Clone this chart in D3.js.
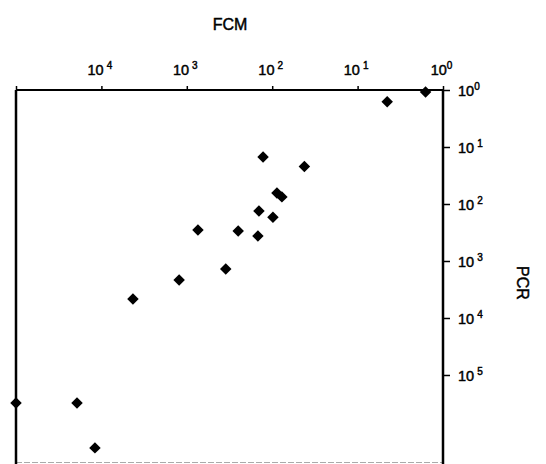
<!DOCTYPE html>
<html>
<head>
<meta charset="utf-8">
<script src="https://cdn.jsdelivr.net/npm/d3@7"></script>
<style>
  body { margin: 0; background: #fff; }
  svg { display: block; font-family: "Liberation Sans", Arial, sans-serif; }
  svg text { stroke: #000; stroke-width: 0.45px; }
</style>
</head>
<body>
<div id="chart"></div>
<script>
const width = 546;
const height = 464;
const margin = ({top: 90, right: 103, bottom: 1, left: 16});

// FCM (x, reversed log) and PCR (y, log) values
const fcm = [1.6, 4.5, 128, 42, 88, 77, 143, 98, 740, 250, 147, 350, 1230, 4270, 100000, 19300, 11900];
const pcr = [1.08, 1.6, 15, 22, 64, 75, 133, 170, 286, 298, 364, 1380, 2150, 4650, 309000, 309000, 1900000];

const xTicks = [100000, 10000, 1000, 100, 10, 1];
const yTicks = [1, 10, 100, 1000, 10000, 100000];

const svg = d3.select("#chart")
    .append("svg")
    .attr("width", width)
    .attr("height", height);

let xScale = d3.scaleLog()
    .domain([100000, 1])
    .range([margin.left, width - margin.right]);

let yScale = d3.scaleLog()
    .domain([1, 3.5e6])
    .range([margin.top, height - margin.bottom]);

const expo = (v) => Math.round(Math.log10(v));

// top axis (FCM)
let xAxis = d3.axisTop(xScale)
    .tickValues(xTicks)
    .tickSize(4)
    .tickSizeOuter(0)
    .tickFormat("");

let gx = svg.append("g")
    .attr("class", "x axis")
    .attr("transform", "translate(0," + margin.top + ")")
    .call(xAxis);

gx.select(".domain").remove();
gx.selectAll(".tick line").attr("stroke", "#000").attr("stroke-width", 1.5);

gx.selectAll(".tick").each(function (d) {
    if (d === 100000) return;
    let t = d3.select(this).append("text")
        .attr("x", -2)
        .attr("y", -15)
        .attr("fill", "#000")
        .attr("font-size", 14.5)
        .attr("text-anchor", "middle");
    t.append("tspan").text("10");
    t.append("tspan")
        .attr("dx", expo(d) === 0 ? 0 : 3)
        .attr("dy", -6)
        .attr("font-size", 10)
        .text(expo(d));
});

// right axis (PCR)
let yAxis = d3.axisRight(yScale)
    .tickValues(yTicks)
    .tickSize(7)
    .tickSizeOuter(0)
    .tickFormat("");

let gy = svg.append("g")
    .attr("class", "y axis")
    .attr("transform", "translate(" + (width - margin.right) + ",0)")
    .call(yAxis);

gy.select(".domain").remove();
gy.selectAll(".tick line").attr("stroke", "#000").attr("stroke-width", 1.5);

gy.selectAll(".tick").each(function (d) {
    let t = d3.select(this).append("text")
        .attr("x", 15)
        .attr("dy", "0.35em")
        .attr("fill", "#000")
        .attr("font-size", 14.5)
        .attr("text-anchor", "start");
    t.append("tspan").text("10");
    t.append("tspan")
        .attr("dx", expo(d) === 0 ? 0 : 3)
        .attr("dy", -6)
        .attr("font-size", 10)
        .text(expo(d));
});

// frame
const x0 = xScale.range()[0], x1 = xScale.range()[1];
const y0 = yScale.range()[0], y1 = yScale.range()[1];

svg.append("line")
    .attr("x1", x0).attr("x2", x1)
    .attr("y1", y1 - 0.5).attr("y2", y1 - 0.5)
    .attr("stroke", "#aaa")
    .attr("stroke-width", 1)
    .attr("stroke-dasharray", "6,2");

svg.append("line")
    .attr("x1", x0).attr("x2", x1 + 1)
    .attr("y1", y0).attr("y2", y0)
    .attr("stroke", "#000")
    .attr("stroke-width", 2);

svg.append("line")
    .attr("x1", x0).attr("x2", x0)
    .attr("y1", y0).attr("y2", height)
    .attr("stroke", "#000")
    .attr("stroke-width", 2.5);

svg.append("line")
    .attr("x1", x1).attr("x2", x1)
    .attr("y1", y0).attr("y2", height)
    .attr("stroke", "#000")
    .attr("stroke-width", 2.5);

// titles
svg.append("text")
    .attr("x", 230)
    .attr("y", 30)
    .attr("text-anchor", "middle")
    .attr("font-size", 16)
    .attr("fill", "#000")
    .text("FCM");

svg.append("text")
    .attr("transform", "translate(517," + 283 + ") rotate(90)")
    .attr("text-anchor", "middle")
    .attr("font-size", 16)
    .attr("fill", "#000")
    .text("PCR");

// points
const points = fcm.map((v, i) => ({fcm: v, pcr: pcr[i]}));

const diamond = d3.symbol().type(d3.symbolSquare).size(66);

svg.selectAll(".pt")
    .data(points)
    .enter()
    .append("path")
    .attr("class", "pt")
    .attr("d", diamond)
    .attr("transform", function (d) {
        return "translate(" + xScale(d.fcm) + "," + yScale(d.pcr) + ") rotate(45)";
    })
    .attr("fill", "#000");
</script>
</body>
</html>
